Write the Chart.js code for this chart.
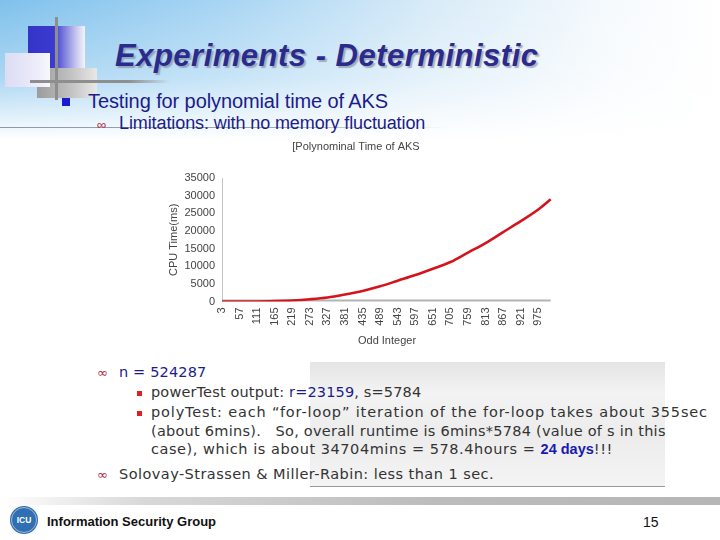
<!DOCTYPE html>
<html>
<head>
<meta charset="utf-8">
<script src="https://cdn.jsdelivr.net/npm/chart.js@4.4.1/dist/chart.umd.min.js"></script>
<style>
  html, body { margin:0; padding:0; }
  body { width:720px; height:540px; position:relative; overflow:hidden; background:#fff; font-family:"Liberation Sans", Arial, sans-serif; }
  .abs { position:absolute; white-space:nowrap; }
  .sky { left:0; top:0; width:720px; height:140px;
    background: linear-gradient(to bottom, rgba(255,255,255,0) 0%, rgba(255,255,255,0.35) 55%, #fff 100%),
                linear-gradient(to right, #7fc1ec 0%, #a6d4f3 30%, #d8ebf8 60%, #f6fafd 85%, #fff 100%); }
  .title { left:115px; top:38px; font-size:31px; font-weight:bold; font-style:italic; color:#2b2b8e; text-shadow:2px 2px 1px rgba(120,120,140,0.55); letter-spacing:0.5px; }
  .lvl1 { left:88px; top:90px; font-size:20px; color:#1c1c8c; letter-spacing:-0.1px; }
  .sq { left:62px; top:98px; width:8px; height:8px; background:#1a1ad0; }
  .lvl2 { left:119px; top:113px; font-size:18px; color:#1c1c8c; letter-spacing:-0.1px; }
  .sym { position:absolute; left:-22px; color:#b0283a; font-size:13px; letter-spacing:0; }
  .rule { left:0; top:127px; width:450px; height:1px; background:linear-gradient(to right, #8a9aaa, #9aa8b6 60%, rgba(200,210,220,0)); }
  .body { font-family:"DejaVu Sans", sans-serif; font-size:14.5px; color:#333; }
  .blue { color:#1c1c8c; }
  .rb { width:5px; height:5px; background:#e02020; }
  .textbox { left:310px; top:362px; width:355px; height:124px; border-bottom:1px solid #9a9a9a;
    background: linear-gradient(to bottom, #e4e4e4 0%, #f3f3f3 25%, #ececec 60%, #f4f4f4 100%); }
  .band { left:0; top:497px; width:720px; height:8px; background:linear-gradient(to right, rgba(215,215,215,0) 0%, #d8d8d8 20%, #bcbcbc 60%, #b6b6b6 100%); }
  .foot { left:47px; top:514px; font-size:13px; font-weight:bold; color:#111; }
  .page { left:643px; top:514px; font-size:14px; color:#111; }
  .logo { left:11px; top:507px; width:24px; height:24px; border-radius:50%; background:#2f6fb2; border:1px solid #9fb8d8; box-shadow:0 0 0 1px #2f6fb2;
    color:#fff; font-size:8.5px; font-weight:bold; text-align:center; line-height:24px; }
  #wrap { position:absolute; left:160px; top:135px; width:400px; height:215px; }
</style>
</head>
<body>
<div class="abs sky"></div>

<!-- decorative blocks top left -->
<div class="abs" style="left:28px;top:26px;width:57px;height:42px;background:linear-gradient(to right,#3434c8 0%,#3a3ad0 45%,#c8c8ee 85%,#f4f4fc 100%);"></div>
<div class="abs" style="left:37px;top:68px;width:60px;height:30px;background:linear-gradient(to right,#9c9c9c 0%,#bdbdbd 50%,#e8e8e8 100%);"></div>
<div class="abs" style="left:5px;top:53px;width:45px;height:34px;background:linear-gradient(to right,#dcdcf4 0%,#ececfa 70%,#f8f8fe 100%);"></div>
<div class="abs" style="left:55px;top:17px;width:3px;height:83px;background:#8e8e8e;"></div>
<div class="abs" style="left:30px;top:80px;width:140px;height:3px;background:linear-gradient(to right,#8e8e8e 0%,#8e8e8e 70%,rgba(160,160,160,0) 100%);"></div>

<div class="abs title">Experiments - Deterministic</div>
<div class="abs sq"></div>
<div class="abs lvl1">Testing for polynomial time of AKS</div>
<div class="abs rule"></div>
<div class="abs lvl2"><span class="sym" style="top:4px;">&#8734;</span>Limitations: with no memory fluctuation</div>

<div class="abs textbox"></div>

<div id="wrap"><canvas id="c"></canvas></div>

<div class="abs body" style="left:119px;top:364px;letter-spacing:0.15px;"><span class="sym" style="top:1px;">&#8734;</span><span class="blue">n = 524287</span></div>
<div class="abs rb" style="left:137px;top:391px;"></div>
<div class="abs body" style="left:151px;top:384px;letter-spacing:0.15px;">powerTest output: <span class="blue">r=23159</span>, s=5784</div>
<div class="abs rb" style="left:137px;top:411px;"></div>
<div class="abs body" style="left:151px;top:404px;letter-spacing:0.85px;">polyTest: each “for-loop” iteration of the for-loop takes about 355sec</div>
<div class="abs body" style="left:151px;top:423px;letter-spacing:0.25px;">(about 6mins).&nbsp;&nbsp; So, overall runtime is 6mins*5784 (value of s in this</div>
<div class="abs body" style="left:151px;top:441px;letter-spacing:0.55px;">case), which is about 34704mins = 578.4hours = <b style="color:#1a1ab0;font-family:'Liberation Sans',Arial,sans-serif;letter-spacing:0;">24 days</b>!!!</div>
<div class="abs body" style="left:119px;top:466px;letter-spacing:0.45px;"><span class="sym" style="top:1px;">&#8734;</span>Solovay-Strassen &amp; Miller-Rabin: less than 1 sec.</div>

<div class="abs band"></div>
<div class="abs logo">ICU</div>
<div class="abs foot">Information Security Group</div>
<div class="abs page">15</div>

<script>
// tick labels on the x axis (odd integers)
const xTicks = [3, 57, 111, 165, 219, 273, 327, 381, 435, 489, 543, 597, 651, 705, 759, 813, 867, 921, 975];
const oddN  = [3, 57, 111, 165, 219, 273, 327, 381, 435, 489, 543, 597, 651, 705, 759, 813, 867, 921, 975, 1013];
const cpuMs = [0, 0, 0, 100, 300, 650, 1150, 2000, 3000, 4300, 5900, 7500, 9300, 11200, 13900, 16600, 19700, 22800, 26100, 29000];
// grey baseline series, flat at zero
const baseMs = [0, 0, 0, 0, 0, 0, 0, 0, 0, 0, 0, 0, 0, 0, 0, 0, 0, 0, 0, 0];
const yTicks = [0, 5000, 10000, 15000, 20000, 25000, 30000, 35000];

const pts = (ys) => oddN.map((n, i) => ({ x: n, y: ys[i] }));
const font = { family: '"Liberation Sans", Arial, sans-serif', size: 11, weight: 'normal' };

new Chart(document.getElementById('c'), {
  type: 'line',
  data: {
    datasets: [
      { label: 'AKS', data: pts(cpuMs), borderColor: '#d3141c', borderWidth: 2.6,
        pointRadius: 0, cubicInterpolationMode: 'monotone', fill: false },
      { label: 'base', data: pts(baseMs), borderColor: '#b4b4b4', borderWidth: 4,
        pointRadius: 0, fill: false }
    ]
  },
  options: {
    responsive: true, maintainAspectRatio: false, animation: false,
    layout: { padding: { left: 0, right: 8, top: 0, bottom: 0 } },
    plugins: {
      legend: { display: false },
      tooltip: { enabled: false },
      title: { display: true, text: '[Polynominal Time of AKS', color: '#444',
        font: font, padding: { top: 5, bottom: 25 } }
    },
    scales: {
      x: {
        type: 'linear', min: 3, max: 1017,
        afterBuildTicks: s => { s.ticks = xTicks.map(v => ({ value: v })); },
        afterFit: s => { s.height = 48.5; },
        grid: { display: false, drawTicks: false },
        border: { display: false },
        ticks: { autoSkip: false, minRotation: 90, maxRotation: 90, padding: 6, color: '#444', font,
          callback: v => String(v) },
        title: { display: true, text: 'Odd Integer', color: '#444', font, padding: { top: 0, bottom: 2 } }
      },
      y: {
        min: 0, max: 35000,
        afterBuildTicks: s => { s.ticks = yTicks.map(v => ({ value: v })); },
        afterFit: s => { s.width = 62; },
        grid: { display: false, drawTicks: false },
        border: { display: true, color: '#c4c4c4', width: 1 },
        ticks: { padding: 7, color: '#444', font, callback: v => String(v) },
        title: { display: true, text: 'CPU Time(ms)', color: '#444', font, padding: { top: 7, bottom: 0 } }
      }
    }
  }
});
</script>
</body>
</html>
